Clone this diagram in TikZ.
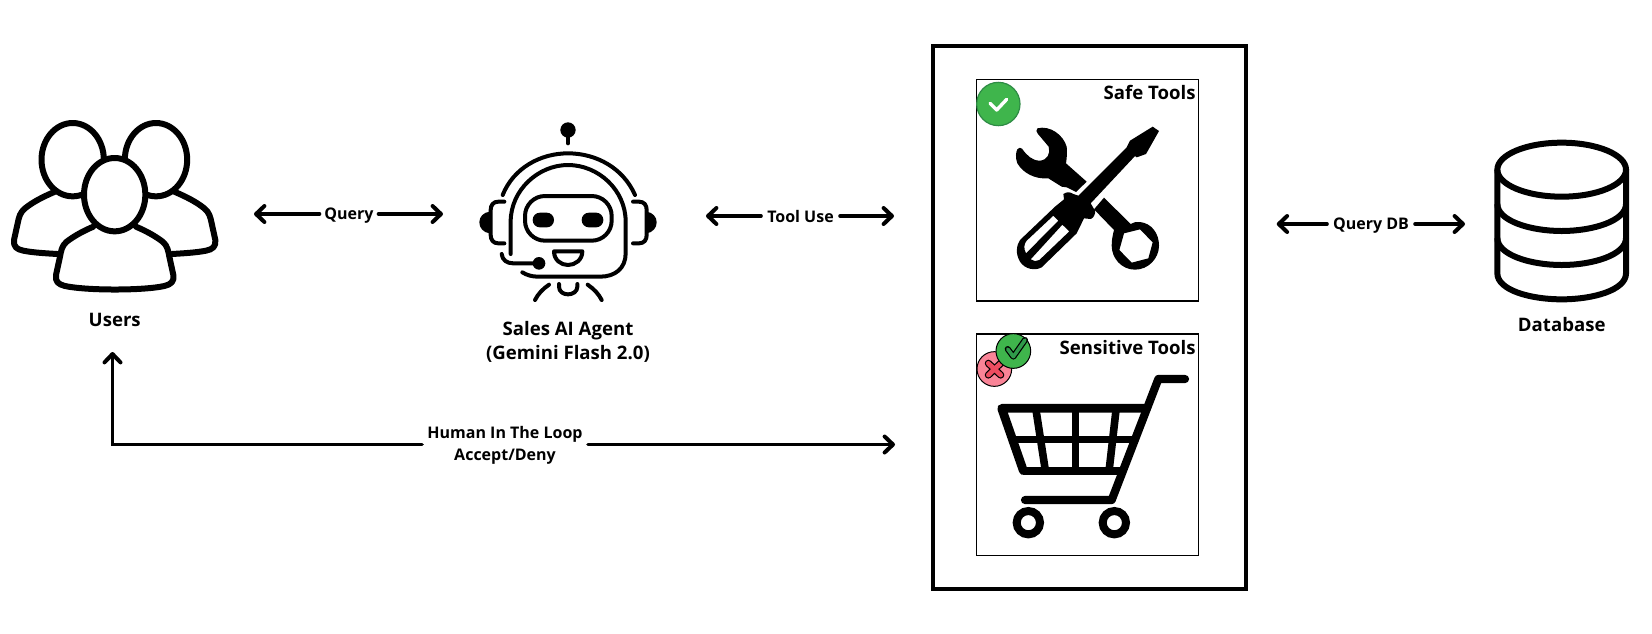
\documentclass[tikz,border=0pt]{standalone}
\usepackage{fontspec}
\setmainfont{Open Sans}
\usetikzlibrary{arrows.meta}
\definecolor{okgreen}{HTML}{3FB54C}
\definecolor{okedge}{HTML}{2E8B45}
\definecolor{okdark}{HTML}{2F9A4A}
\definecolor{nopink}{HTML}{F98497}
\definecolor{nored}{HTML}{EE4C60}
\tikzset{
  zoomed/.style 2 args={xshift=#1*0.5pt,yshift=-#2*0.5pt,x=0.166667pt,y=-0.166667pt},
  lbl/.style={font=\bfseries\fontsize{8}{10.8}\selectfont,align=center,inner sep=0pt,outer sep=0pt},
  lblone/.style={lbl,text depth=0pt},
  title/.style={font=\bfseries\fontsize{9.3}{12.1}\selectfont,align=center,inner sep=0pt},
  link/.style={line width=1.8pt,line cap=round,-{Straight Barb[length=4.2pt,width=8pt,line width=2pt,round]}},
  people/.style={line width=3pt,fill=white,line join=round,line cap=round},
  bot/.style={line width=2pt,line cap=round,line join=round},
  dbline/.style={line width=3pt,line join=round},
  cartline/.style={line width=4.1pt,line cap=round,line join=round},
}
\begin{document}
\begin{tikzpicture}[x=0.5pt,y=-0.5pt]
\useasboundingbox (0,0) rectangle (1652,633);
% Users
\begin{scope}[zoomed={0}{100}]
\draw[people] (165,275) .. controls (130,290) and (100,305) .. (75,325) .. controls (60,338) and (57,350) .. (53,370) -- (42,420) .. controls (40,440) and (50,448) .. (70,452) .. controls (100,458) and (140,460) .. (172,462);
\draw[people] (523,275) .. controls (558,290) and (588,305) .. (613,325) .. controls (628,338) and (631,350) .. (635,370) -- (646,420) .. controls (648,440) and (638,448) .. (618,452) .. controls (588,458) and (548,460) .. (516,462);
\draw[people] (218,179) ellipse [x radius=93.5,y radius=110];
\draw[people] (468,179) ellipse [x radius=93.5,y radius=110];
\draw[people] (280,380) .. controls (245,395) and (220,410) .. (200,425) .. controls (185,437) and (183,455) .. (180,470) -- (168,525) .. controls (165,545) and (175,553) .. (195,558) .. controls (260,572) and (430,572) .. (493,558) .. controls (513,553) and (523,545) .. (520,525) -- (508,470) .. controls (505,455) and (503,437) .. (488,425) .. controls (468,410) and (443,395) .. (408,380);
\draw[people] (344,284) ellipse [x radius=92,y radius=110];
\end{scope}
\node[title] (users) at (114.7,320) {Users};
% Agent
\begin{scope}[zoomed={460}{110}]
\fill (324,60) circle [radius=23];
\draw[bot] (324,70) -- (324,100);
\draw[bot] (128,255) .. controls (160,175) and (240,130) .. (324,130) .. controls (410,130) and (490,175) .. (525,255);
\draw[bot] (152,432) -- (152,335) .. controls (152,240) and (235,165) .. (324,165) .. controls (415,165) and (497,240) .. (497,335) -- (497,430) .. controls (497,475) and (465,500) .. (420,500) -- (235,500) .. controls (215,500) and (200,495) .. (187,487);
\draw[bot,rounded corners=10pt] (195,258) rectangle (455,392);
\fill[rounded corners=3.6pt] (218,308) rectangle (282,352);
\fill[rounded corners=3.6pt] (365,308) rectangle (430,352);
\draw[bot] (282,424) -- (367,424) .. controls (367,450) and (345,465) .. (324,465) .. controls (303,465) and (282,450) .. (282,424) -- cycle;
\draw[bot] (133,275) -- (115,275) .. controls (100,275) and (92,285) .. (92,300) -- (92,375) .. controls (92,390) and (100,400) .. (115,400) -- (133,400);
\draw[bot] (519,275) -- (537,275) .. controls (552,275) and (560,285) .. (560,300) -- (560,375) .. controls (560,390) and (552,400) .. (537,400) -- (519,400);
\fill (88,305) .. controls (70,308) and (58,320) .. (58,337) .. controls (58,354) and (70,367) .. (88,370) -- cycle;
\fill (560,305) .. controls (578,308) and (590,320) .. (590,337) .. controls (590,354) and (578,367) .. (560,370) -- cycle;
\draw[bot] (125,432) .. controls (127,450) and (140,460) .. (160,460) -- (225,460);
\fill (237,460) circle [radius=19];
\draw[bot] (297,522) -- (297,530) .. controls (297,545) and (310,553) .. (324,553) .. controls (338,553) and (352,545) .. (352,530) -- (352,522);
\draw[bot] (267,524) .. controls (248,537) and (234,552) .. (225,570);
\draw[bot] (383,524) .. controls (402,537) and (416,552) .. (425,570);
\end{scope}
\node[title] (agent) at (568,342) {Sales AI Agent\\(Gemini Flash 2.0)};
% Tools container
\draw[line width=2pt] (933,46) rectangle (1246,589);
\draw[line width=0.6pt] (976.5,79.5) rectangle (1198.5,301);
\draw[line width=0.6pt] (976.5,334) rectangle (1198.5,555.5);
\node[title,anchor=east] (safe) at (1196,92.7) {Safe Tools};
\node[title,anchor=east] (sensitive) at (1196,347.7) {Sensitive Tools};
% Safe tools icon
\begin{scope}[zoomed={960}{70}]
\fill[okgreen,draw=okedge,line width=0.6pt] (115,102) circle [radius=65];
\draw[white,line width=1.7pt,line cap=round,line join=round] (90,100) -- (110,120) -- (140,88);
% wrench
\fill (232,175) .. controls (270,165) and (310,195) .. (320,230) .. controls (322,250) and (320,265) .. (318,280) -- (380,335) -- (348,366) -- (320,352) -- (305,350) -- (265,325) .. controls (225,328) and (190,310) .. (172,280) .. controls (165,262) and (168,245) .. (172,238) .. controls (176,232) and (182,232) .. (186,236) .. controls (200,255) and (215,272) .. (240,272) .. controls (262,270) and (272,250) .. (266,230) -- (234,192) .. controls (228,186) and (228,180) .. (232,175) -- cycle;
\path[fill,even odd rule] (432,383) -- (512,462) .. controls (520,456) and (530,455) .. (540,456) .. controls (575,460) and (597,490) .. (597,527) .. controls (597,565) and (565,599) .. (525,599) .. controls (485,599) and (455,565) .. (455,527) .. controls (455,510) and (458,495) .. (462,480) -- (402,418) -- cycle
 (540,478) -- (578,517) -- (565,565) -- (515,578) -- (478,540) -- (492,490) -- cycle;
% screwdriver
\path[fill,even odd rule] (578,170) -- (597,183) -- (558,252) -- (530,262) -- (525,258) -- (392,400) -- (405,422) .. controls (407,432) and (400,445) .. (392,447) -- (372,445) -- (350,490) -- (245,592) .. controls (225,603) and (195,598) .. (180,575) .. controls (165,550) and (170,525) .. (180,510) -- (285,410) -- (312,388) -- (310,372) .. controls (320,365) and (330,365) .. (340,372) -- (355,377) -- (500,232) -- (510,212) -- cycle
 (280,437) -- (295,452) -- (198,550) .. controls (190,535) and (192,522) .. (200,512) -- cycle
 (307,464) -- (328,484) -- (238,570) .. controls (230,575) and (220,574) .. (212,568) -- cycle;
\end{scope}
% Cart icon
\begin{scope}[zoomed={960}{325}]
\fill[nopink,draw=black,line width=0.5pt] (103,132) circle [radius=52];
\draw[black,line width=3.6pt,line cap=round] (85,115) -- (122,150) (122,115) -- (85,150);
\draw[nored,line width=2.4pt,line cap=round] (85,115) -- (122,150) (122,115) -- (85,150);
\fill[okgreen,draw=black,line width=0.5pt] (160,78) circle [radius=52];
\draw[black,line width=3pt,line cap=round,line join=round] (143,72) -- (160,95) -- (195,45);
\draw[okdark,line width=1.8pt,line cap=round,line join=round] (143,72) -- (160,95) -- (195,45);
\draw[cartline] (675,162) -- (595,162) -- (455,525) -- (195,525);
\draw[cartline,line width=4.4pt] (190,437) -- (125,250) -- (560,250);
\draw[cartline,line cap=butt] (190,437) -- (490,437);
\draw[cartline,line cap=butt,line width=3.8pt] (165,343) -- (520,343);
\draw[cartline,line cap=butt,line width=3.8pt] (228,255) -- (255,430);
\draw[cartline,line cap=butt,line width=3.8pt] (346,255) -- (346,430);
\draw[cartline,line cap=butt,line width=3.8pt] (468,255) -- (448,430);
\draw[line width=4pt] (205,593) circle [radius=35];
\draw[line width=4pt] (463,593) circle [radius=35];
\end{scope}
% Database
\begin{scope}[zoomed={1480}{130}]
\draw[dbline] (245,119) ellipse [x radius=193,y radius=81];
\draw[dbline] (52,119) -- (52,430) .. controls (52,480) and (150,508) .. (245,508) .. controls (340,508) and (438,480) .. (438,430) -- (438,119);
\draw[dbline] (52,222) .. controls (52,272) and (150,303) .. (245,303) .. controls (340,303) and (438,272) .. (438,222);
\draw[dbline] (52,324) .. controls (52,374) and (150,405) .. (245,405) .. controls (340,405) and (438,374) .. (438,324);
\end{scope}
\node[title] (database) at (1561.7,325) {Database};
% Connectors
\node[lblone,minimum width=59pt/2] (query) at (349,214) {Query};
\coordinate (queryL) at (254,214);
\coordinate (queryR) at (443,214);
\draw[link] (query) -- (queryL);
\draw[link] (query) -- (queryR);
\node[lblone,minimum width=79pt/2] (tooluse) at (800.5,216) {Tool Use};
\coordinate (toolL) at (706,216);
\coordinate (toolR) at (894,216);
\draw[link] (tooluse) -- (toolL);
\draw[link] (tooluse) -- (toolR);
\node[lblone,minimum width=88pt/2] (querydb) at (1371,224) {Query DB};
\coordinate (dbL) at (1276.7,224);
\coordinate (dbR) at (1465,224);
\draw[link] (querydb) -- (dbL);
\draw[link] (querydb) -- (dbR);
\node[lbl,minimum width=166pt/2] (hitl) at (505,445.5) {Human In The Loop\\Accept/Deny};
\coordinate (hitlTip) at (112.5,352);
\coordinate (hitlCorner) at (112.5,444.5);
\coordinate (hitlR) at (895,444.5);
\draw[link] (hitl.west |- hitlR) -- (hitlCorner) -- (hitlTip);
\draw[link] (hitl.east |- hitlR) -- (hitlR);
\end{tikzpicture}
\end{document}
